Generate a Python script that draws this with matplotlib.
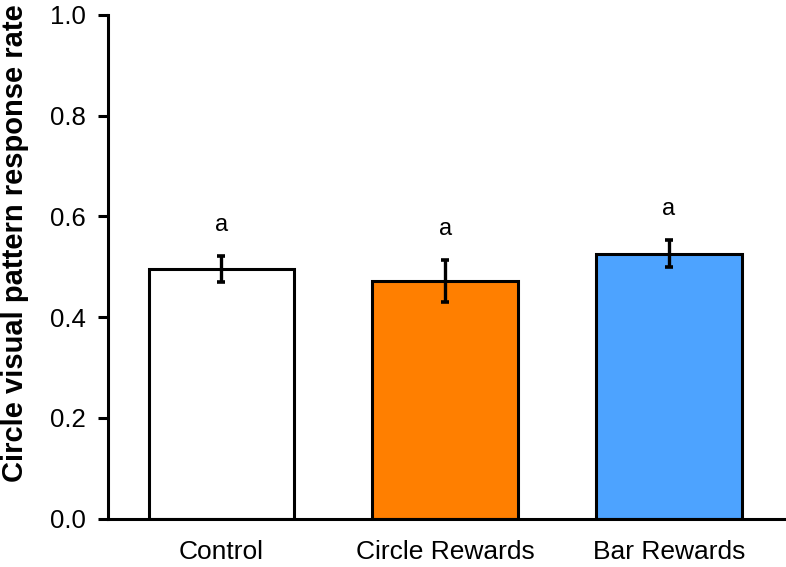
import matplotlib
matplotlib.use('Agg')
import matplotlib.pyplot as plt

# ── data ─────────────────────────────────────────────────────────────────────
groups = ["Control", "Circle Rewards", "Bar Rewards"]
means = [0.495, 0.472, 0.526]
errors = [0.026, 0.042, 0.027]
letters = ["a", "a", "a"]
bar_colors = ["#ffffff", "#ff7f00", "#4da3ff"]

plt.rcParams['font.family'] = ['Liberation Sans', 'DejaVu Sans']

fig = plt.figure(figsize=(7.86, 5.67), dpi=100)
ax = fig.add_axes([0.138, 0.085, 0.861, 0.889])

x = list(range(len(groups)))
ax.bar(x, means, width=0.65, color=bar_colors, edgecolor="black",
       linewidth=2.2, zorder=2)
ax.errorbar(x, means, yerr=errors, fmt="none", ecolor="black",
            elinewidth=2.4, capsize=3, capthick=2.6, zorder=3)

# significance letters above each bar
for xi, m, e, lab in zip(x, means, errors, letters):
    ax.text(xi, m + e + 0.049, lab, ha="center", va="baseline", fontsize=17)

ax.set_xlim(-0.505, 2.52)
ax.set_ylim(0, 1.0)
ax.set_yticks([0.0, 0.2, 0.4, 0.6, 0.8, 1.0])
ax.set_yticklabels(["0.0", "0.2", "0.4", "0.6", "0.8", "1.0"])
ax.set_xticks(x)
ax.set_xticklabels(groups)
ax.tick_params(axis="y", direction="out", length=7.5, width=2.2,
               labelsize=18.5, pad=9)
ax.tick_params(axis="x", length=0, labelsize=19, pad=15)
ax.set_ylabel("Circle visual pattern response rate", fontsize=21,
              fontweight="bold")
ax.yaxis.set_label_coords(-0.117, 0.546)

for side in ["top", "right"]:
    ax.spines[side].set_visible(False)
for side in ["left", "bottom"]:
    ax.spines[side].set_linewidth(2.2)

fig.savefig("out.png", dpi=100)
